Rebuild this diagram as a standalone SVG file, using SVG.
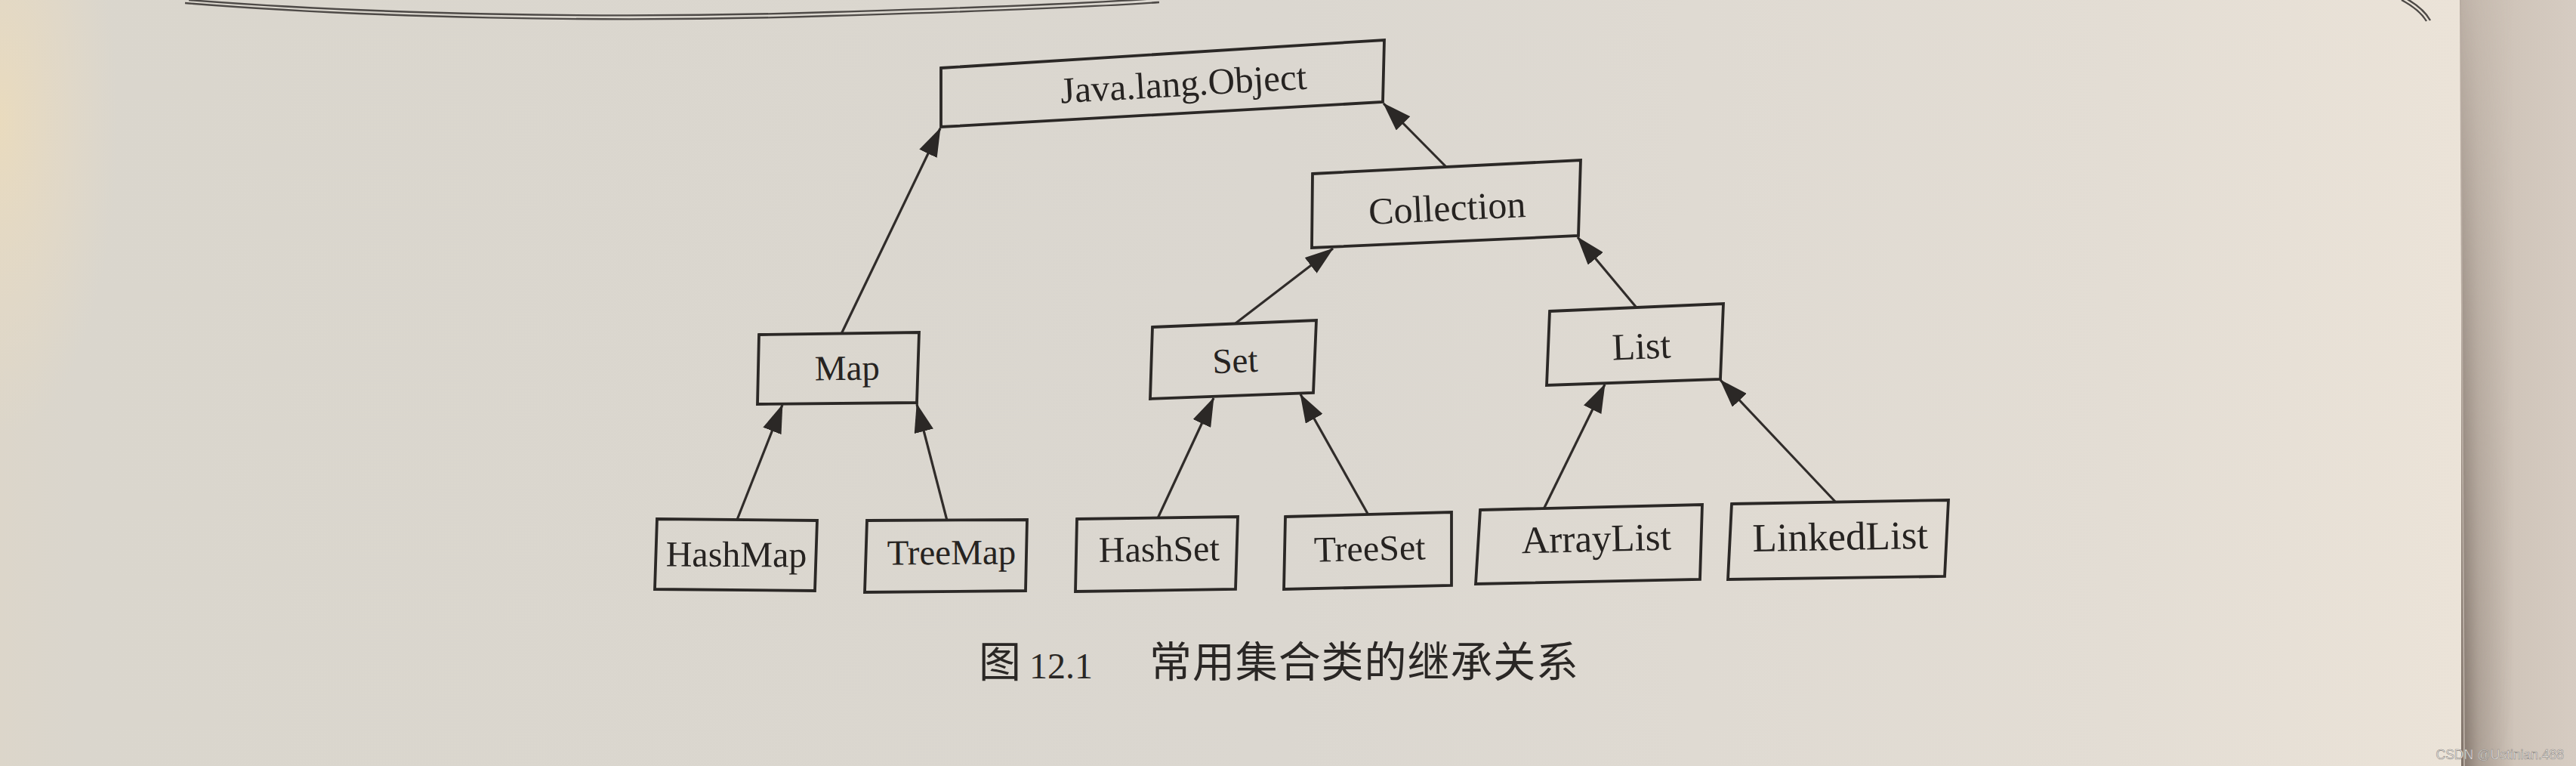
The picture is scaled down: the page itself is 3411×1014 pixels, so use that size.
<svg xmlns="http://www.w3.org/2000/svg" width="3411" height="1014" viewBox="0 0 3411 1014">
<defs>
<linearGradient id="page" x1="0" y1="0" x2="3411" y2="0" gradientUnits="userSpaceOnUse">
<stop offset="0" stop-color="#dcd6ca"/>
<stop offset="0.03" stop-color="#dad6cd"/>
<stop offset="0.5" stop-color="#dbd7d0"/>
<stop offset="0.82" stop-color="#e3ddd4"/>
<stop offset="0.955" stop-color="#ebe3d8"/>
<stop offset="1" stop-color="#ebe3d8"/>
</linearGradient>
<radialGradient id="leftglow" cx="0" cy="160" r="260" gradientUnits="userSpaceOnUse" gradientTransform="translate(0 160) scale(0.6 1.6) translate(0 -160)">
<stop offset="0" stop-color="#eadbbd" stop-opacity="0.95"/>
<stop offset="0.6" stop-color="#e6dac4" stop-opacity="0.5"/>
<stop offset="1" stop-color="#e6dac4" stop-opacity="0"/>
</radialGradient>
<linearGradient id="strip" x1="0" y1="0" x2="1" y2="0">
<stop offset="0" stop-color="#c9bdb2"/>
<stop offset="0.4" stop-color="#cfc4b9"/>
<stop offset="1" stop-color="#d6ccc2"/>
</linearGradient>
<linearGradient id="shadowH" x1="0" y1="0" x2="1" y2="0">
<stop offset="0" stop-color="#6e6158" stop-opacity="0.85"/>
<stop offset="0.35" stop-color="#8d8076" stop-opacity="0.5"/>
<stop offset="1" stop-color="#8d8076" stop-opacity="0"/>
</linearGradient>
<linearGradient id="fadeV" x1="0" y1="0" x2="0" y2="1">
<stop offset="0" stop-color="#fff" stop-opacity="0.15"/>
<stop offset="0.5" stop-color="#fff" stop-opacity="0.6"/>
<stop offset="1" stop-color="#fff" stop-opacity="1"/>
</linearGradient>
<mask id="shadowMask" maskUnits="userSpaceOnUse" x="3250" y="0" width="161" height="1014">
<rect x="3250" y="0" width="161" height="1014" fill="url(#fadeV)"/>
</mask>
<marker id="arrow" markerUnits="userSpaceOnUse" markerWidth="38" markerHeight="26" refX="37" refY="13" orient="auto">
<path d="M0,0 L38,13 L0,26 Z" fill="#2b2826"/>
</marker>
</defs>
<style>
.box { fill: none; stroke: #2b2826; stroke-width: 3.8; stroke-linejoin: miter; }
.lbl { font-family: "Liberation Serif", "Times New Roman", serif; fill: #262321; text-anchor: middle; }
.edge { stroke: #302c2a; stroke-width: 3.2; fill: none; marker-end: url(#arrow); }
.cap { font-family: "Liberation Serif", "Noto Sans CJK SC", serif; fill: #2a2725; }
.rule { fill: none; stroke: #4e4a47; stroke-width: 2.4; }
</style>

<!-- page background -->
<rect x="0" y="0" width="3411" height="1014" fill="url(#page)"/>
<rect x="0" y="0" width="320" height="700" fill="url(#leftglow)"/>
<!-- right page edge strip -->
<rect x="3259" y="0" width="152" height="1014" fill="url(#strip)"/>
<rect x="3259" y="0" width="70" height="1014" fill="url(#shadowH)" mask="url(#shadowMask)"/>
<line x1="3258" y1="0" x2="3263" y2="1014" stroke="#b8aca2" stroke-width="2"/>

<!-- curved header rule at top of page -->
<g id="header-rule">
<path class="rule" d="M250,0 C480,18 800,26 1100,16 C1300,10 1450,4 1530,-2"/>
<path class="rule" d="M245,4 C480,23 800,31 1100,21 C1300,15 1450,9 1535,3"/>
<path class="rule" d="M3186,-2 C3200,6 3212,16 3218,27"/>
<path class="rule" d="M3180,0 C3195,8 3207,18 3213,28"/>
</g>

<!-- connectors -->
<g id="connectors">
<line class="edge" x1="1114" y1="442" x2="1245" y2="170"/>
<line class="edge" x1="1915" y1="221" x2="1832" y2="137"/>
<line class="edge" x1="1636" y1="428" x2="1765" y2="329"/>
<line class="edge" x1="2166" y1="406" x2="2089" y2="314"/>
<line class="edge" x1="976" y1="688" x2="1036" y2="536"/>
<line class="edge" x1="1254" y1="689" x2="1214" y2="535"/>
<line class="edge" x1="1533" y1="686" x2="1607" y2="527"/>
<line class="edge" x1="1811" y1="680" x2="1722" y2="522"/>
<line class="edge" x1="2044" y1="674" x2="2125" y2="509"/>
<line class="edge" x1="2431" y1="665" x2="2278" y2="503"/>
</g>

<!-- nodes -->
<g id="node-object">
<polygon class="box" points="1246,90 1833,53 1831,135 1246,168"/>
<text class="lbl" font-size="49" x="1568" y="127" transform="rotate(-3.3 1568 127)">Java.lang.Object</text>
</g>
<g id="node-collection">
<polygon class="box" points="1738,230 2093,212 2090,312 1737,328"/>
<text class="lbl" font-size="50" x="1917" y="292" transform="rotate(-2.8 1917 292)">Collection</text>
</g>
<g id="node-map">
<polygon class="box" points="1005,443 1217,440 1214,533 1003,535"/>
<text class="lbl" font-size="47" x="1122" y="503" transform="rotate(-0.8 1122 503)">Map</text>
</g>
<g id="node-set">
<polygon class="box" points="1526,433 1743,424 1739,520 1523,528"/>
<text class="lbl" font-size="47" x="1636" y="493" transform="rotate(-2.2 1636 493)">Set</text>
</g>
<g id="node-list">
<polygon class="box" points="2052,412 2282,402 2278,502 2048,510"/>
<text class="lbl" font-size="50" x="2174" y="475" transform="rotate(-2.3 2174 475)">List</text>
</g>
<g id="node-hashmap">
<polygon class="box" points="870,687 1082,689 1079,782 867,780"/>
<text class="lbl" font-size="48" x="975" y="750" transform="rotate(0.3 975 750)">HashMap</text>
</g>
<g id="node-treemap">
<polygon class="box" points="1148,689 1360,688 1358,782 1145,784"/>
<text class="lbl" font-size="47" x="1260" y="747" transform="rotate(-0.3 1260 747)">TreeMap</text>
</g>
<g id="node-hashset">
<polygon class="box" points="1426,687 1639,684 1636,780 1424,783"/>
<text class="lbl" font-size="48" x="1535" y="743" transform="rotate(-0.8 1535 743)">HashSet</text>
</g>
<g id="node-treeset">
<polygon class="box" points="1702,684 1922,678 1922,775 1700,780"/>
<text class="lbl" font-size="48" x="1814" y="742" transform="rotate(-1.3 1814 742)">TreeSet</text>
</g>
<g id="node-arraylist">
<polygon class="box" points="1960,675 2254,668 2251,767 1954,773"/>
<text class="lbl" font-size="51" x="2114" y="730" transform="rotate(-1.3 2114 730)">ArrayList</text>
</g>
<g id="node-linkedlist">
<polygon class="box" points="2293,667 2580,662 2575,763 2288,767"/>
<text class="lbl" font-size="53" x="2437" y="728" transform="rotate(-1 2437 728)">LinkedList</text>
</g>

<!-- caption -->
<g id="caption">
<text class="cap" font-size="56" x="1296" y="896">图</text>
<text class="cap" font-size="48" x="1363" y="898">12.1</text>
<text class="cap" font-size="56" x="1522" y="896" letter-spacing="0.9">常用集合类的继承关系</text>
</g>

<!-- watermark -->
<text x="3395" y="1005" text-anchor="end" font-family="Liberation Sans, Arial, sans-serif" font-size="17.5" fill="#f4f1ee" stroke="#8a8580" stroke-width="0.6">CSDN @Ustinian.488</text>
</svg>
